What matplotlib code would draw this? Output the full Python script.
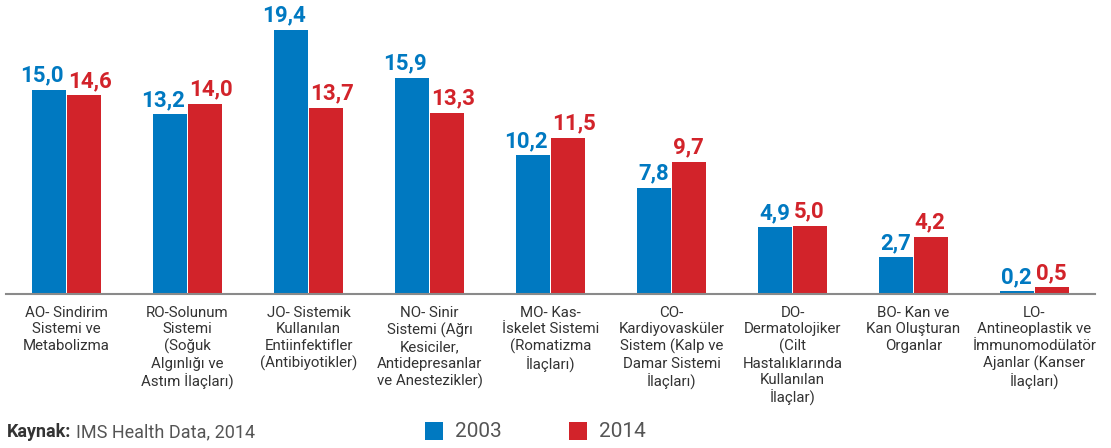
import matplotlib
matplotlib.use("Agg")
import numpy as np
import matplotlib.pyplot as plt
from matplotlib.patches import Rectangle

plt.rcParams['font.family'] = ['Roboto', 'DejaVu Sans']

categories = [
    "AO- Sindirim\nSistemi ve\nMetabolizma",
    "RO-Solunum\nSistemi\n(Soğuk\nAlgınlığı ve\nAstım İlaçları)",
    "JO- Sistemik\nKullanılan\nEntiinfektifler\n(Antibiyotikler)",
    "NO- Sinir\nSistemi (Ağrı\nKesiciler,\nAntidepresanlar\nve Anestezikler)",
    "MO- Kas-\nİskelet Sistemi\n(Romatizma\nİlaçları)",
    "CO-\nKardiyovasküler\nSistem (Kalp ve\nDamar Sistemi\nİlaçları)",
    "DO-\nDermatolojiker\n(Cilt\nHastalıklarında\nKullanılan\nİlaçlar)",
    "BO- Kan ve\nKan Oluşturan\nOrganlar",
    "LO-\nAntineoplastik ve\nİmmunomodülatör\nAjanlar (Kanser\nİlaçları)",
]
vals_2003 = [15.0, 13.2, 19.4, 15.9, 10.2, 7.8, 4.9, 2.7, 0.2]
vals_2014 = [14.6, 14.0, 13.7, 13.3, 11.5, 9.7, 5.0, 4.2, 0.5]
series_names = ["2003", "2014"]
source_label = "Kaynak:"
source_text = "IMS Health Data, 2014"

BLUE = "#0079c1"
RED = "#d2232a"

fig = plt.figure(figsize=(11.11, 4.48), dpi=100)
ax = fig.add_axes([6/1111, 154/448, 1089/1111, 294/448])

x = np.arange(len(categories))
w = 0.285
ax.bar(x - 0.004 - w/2, vals_2003, w, color=BLUE, linewidth=0)
ax.bar(x + 0.004 + w/2, vals_2014, w, color=RED, linewidth=0)

def fmt(v):
    return f"{v:.1f}".replace(".", ",")

for xi, v in zip(x, vals_2003):
    ax.annotate(fmt(v), (xi - 0.02, v), xytext=(0, 6), textcoords="offset points",
                ha="right", va="baseline", color=BLUE, fontsize=16, fontweight="bold")
for xi, v in zip(x, vals_2014):
    ax.annotate(fmt(v), (xi + 0.01, v), xytext=(0, 6), textcoords="offset points",
                ha="left", va="baseline", color=RED, fontsize=16, fontweight="bold")

ax.set_xlim(-0.5, len(categories) - 0.5)
ax.set_ylim(0, 294/13.6)
ax.set_xticks(x)
ax.set_xticklabels(categories, fontsize=10.8, color="#333333", linespacing=1.22)
ax.tick_params(axis="x", length=0, pad=8.5)
ax.set_yticks([])
for s in ["top", "right", "left"]:
    ax.spines[s].set_visible(False)
ax.spines["bottom"].set_color("#8a8a8a")
ax.spines["bottom"].set_linewidth(1.5)

# source note
t1 = fig.text(7/1111, 1 - 432/448, source_label, fontsize=13, fontweight="bold",
              color="#333333", va="center", ha="left")
fig.canvas.draw()
bb = t1.get_window_extent()
fig.text((bb.x1 + 5)/1111, 1 - 432/448, source_text, fontsize=13,
         color="#555555", va="center", ha="left")

# legend
for (lx, name, col) in [(425, series_names[0], BLUE), (569, series_names[1], RED)]:
    fig.add_artist(Rectangle((lx/1111, 1 - 440/448), 18/1111, 18/448,
                             transform=fig.transFigure, color=col, linewidth=0))
    fig.text((lx + 30)/1111, 1 - 431/448, name, fontsize=15,
             color="#555555", va="center", ha="left")

fig.savefig("out.png", dpi=100)
